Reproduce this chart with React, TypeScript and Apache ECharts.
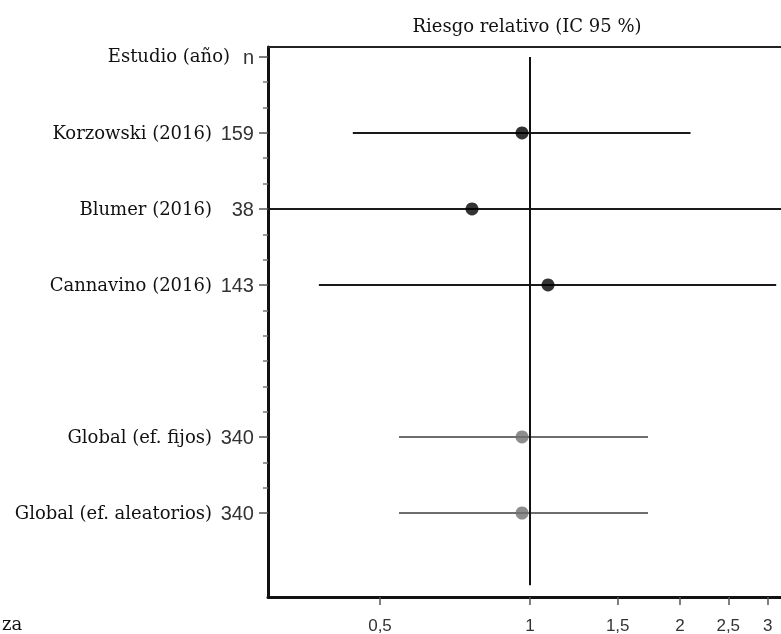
import React, { useEffect, useRef } from "react";
import * as echarts from "echarts";

// ---- data ----
const headerName = "Estudio (año)";
const studyNames = ["", "Korzowski (2016)", "Blumer (2016)", "Cannavino (2016)", "Global (ef. fijos)", "Global (ef. aleatorios)"];
const nLabels = ["n", "159", "38", "143", "340", "340"];
const rowPos = [0, 1, 2, 3, 5, 6];
const minorPos = [1 / 3, 2 / 3, 4 / 3, 5 / 3, 7 / 3, 8 / 3, 10 / 3, 11 / 3, 4, 13 / 3, 14 / 3, 16 / 3, 17 / 3];

const studyRows = [1, 2, 3];
const studyRR = [0.964, 0.765, 1.087];
const studyLo = [0.441, 0.2, 0.377];
const studyHi = [2.1, 4.5, 3.12];

const globalRows = [5, 6];
const globalRR = [0.964, 0.964];
const globalLo = [0.546, 0.546];
const globalHi = [1.725, 1.725];

const xTicks = [0.5, 1, 1.5, 2, 2.5, 3];
const refValue = 1;
const refSpan = [0, 6.95];

const X_MIN = 0.298;
const X_MAX = 3.19;
const Y_MIN = -0.13;
const Y_MAX = 7.105;

const SERIF = "DejaVu Serif";
const SANS = "Liberation Sans";

export default function App() {
  const ref = useRef<HTMLDivElement>(null);
  useEffect(() => {
    if (!ref.current) return;
    const chart = echarts.init(ref.current, undefined, { renderer: "svg" });

    const ciData = (rows: number[], lo: number[], hi: number[]) =>
      rows.map((r, i) => [Math.max(lo[i], X_MIN), Math.min(hi[i], X_MAX), r]);

    const ciSeries = (data: number[][], color: string) => ({
      type: "custom",
      xAxisIndex: 0,
      yAxisIndex: 0,
      silent: true,
      data,
      encode: { x: [0, 1], y: 2 },
      renderItem: (params: any, api: any) => {
        const p1 = api.coord([api.value(0), api.value(2)]);
        const p2 = api.coord([api.value(1), api.value(2)]);
        return {
          type: "line",
          shape: { x1: p1[0], y1: p1[1], x2: p2[0], y2: p2[1] },
          style: { stroke: color, lineWidth: 2 },
        };
      },
      z: 2,
    });

    const commonY = {
      type: "value",
      inverse: true,
      min: Y_MIN,
      max: Y_MAX,
      position: "left",
      splitLine: { show: false },
    };

    chart.setOption({
      animation: false,
      title: {
        text: "Riesgo relativo (IC 95 %)",
        left: 527,
        top: 16,
        padding: 0,
        textAlign: "center",
        textStyle: { fontFamily: SERIF, fontSize: 18, fontWeight: "normal", color: "#111" },
      },
      grid: { left: 268, right: 0, top: 47, bottom: 37 },
      xAxis: [
        {
          type: "log",
          min: X_MIN,
          max: X_MAX,
          position: "bottom",
          axisLine: { show: true, onZero: false, lineStyle: { color: "#111", width: 3 } },
          axisTick: { show: true, customValues: xTicks, length: 8, lineStyle: { color: "#555", width: 1.5 } },
          axisLabel: {
            customValues: xTicks,
            margin: 20,
            fontFamily: SANS,
            fontSize: 17,
            color: "#333",
            formatter: (v: number) => String(v).replace(".", ","),
          },
          splitLine: { show: false },
          minorTick: { show: false },
        },
        {
          type: "log",
          min: X_MIN,
          max: X_MAX,
          position: "top",
          axisLine: { show: true, onZero: false, lineStyle: { color: "#222", width: 2 } },
          axisTick: { show: false },
          axisLabel: { show: false },
          splitLine: { show: false },
        },
      ],
      yAxis: [
        {
          ...commonY,
          axisLine: { show: true, onZero: false, lineStyle: { color: "#111", width: 3 } },
          axisTick: { show: true, customValues: rowPos, length: 9, lineStyle: { color: "#555", width: 1.5 } },
          axisLabel: {
            customValues: rowPos,
            margin: 14,
            fontFamily: SANS,
            fontSize: 20,
            color: "#333",
            formatter: (v: number) => nLabels[rowPos.indexOf(Math.round(v))] ?? "",
          },
        },
        {
          ...commonY,
          axisLine: { show: false, onZero: false },
          axisTick: { show: false },
          axisLabel: {
            customValues: rowPos.slice(1),
            margin: 56,
            fontFamily: SERIF,
            fontSize: 18,
            color: "#111",
            formatter: (v: number) => studyNames[rowPos.indexOf(Math.round(v))] ?? "",
          },
        },
        {
          ...commonY,
          axisLine: { show: false, onZero: false },
          axisTick: { show: true, customValues: minorPos, length: 5, lineStyle: { color: "#777", width: 1.5 } },
          axisLabel: { show: false },
        },
      ],
      series: [
        ciSeries(ciData(studyRows, studyLo, studyHi), "#1a1a1a"),
        ciSeries(ciData(globalRows, globalLo, globalHi), "#6e6e6e"),
        {
          type: "scatter",
          xAxisIndex: 0,
          yAxisIndex: 0,
          symbol: "circle",
          symbolSize: 13,
          itemStyle: { color: "#000" },
          data: studyRows.map((r, i) => [studyRR[i], r]),
          z: 4,
          markLine: {
            silent: true,
            symbol: "none",
            label: { show: false },
            lineStyle: { color: "#111", width: 2, type: "solid" },
            data: [[{ coord: [refValue, refSpan[0]] }, { coord: [refValue, refSpan[1]] }]],
          },
        },
        {
          type: "scatter",
          xAxisIndex: 0,
          yAxisIndex: 0,
          symbol: "circle",
          symbolSize: 13,
          itemStyle: { color: "#707070" },
          data: globalRows.map((r, i) => [globalRR[i], r]),
          z: 4,
        },
      ],
      graphic: [
        {
          type: "text",
          right: 781 - 230,
          top: 46,
          style: { text: headerName, fontFamily: SERIF, fontSize: 18, fill: "#111" },
        },
        {
          type: "text",
          left: 2,
          top: 614,
          style: { text: "za", fontFamily: SERIF, fontSize: 18, fill: "#111" },
        },
      ],
    });
    return () => chart.dispose();
  }, []);
  return <div ref={ref} style={{ position: "fixed", left: 0, top: 0, width: 781, height: 634 }} />;
}
